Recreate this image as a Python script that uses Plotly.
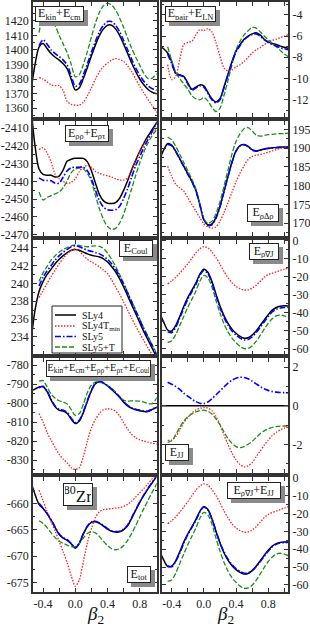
import plotly.graph_objects as go

N = None
W, H = 310, 628

beta = [-0.55, -0.5, -0.45, -0.4, -0.35, -0.3, -0.25, -0.2, -0.15, -0.1, -0.05, 0.0, 0.05, 0.1, 0.15,
        0.2, 0.25, 0.3, 0.35, 0.4, 0.45, 0.5, 0.55, 0.6, 0.65, 0.7, 0.75, 0.8, 0.85, 0.9, 0.95, 1.0, 1.05]

# E_kin + E_cm
kin_sly4 = [1372, 1390, 1402, 1404.5, 1401, 1397.5, 1395, 1393, 1390.5, 1387, 1379.5, 1372.5, 1374, 1380.5, 1388, 1396, 1403.5, 1410, 1414.5, 1417, 1417, 1414.5, 1410, 1404, 1397.5, 1391, 1385, 1380, 1376, 1373, 1371, 1370, 1369.5]
kin_sly4t = [N, N, 1381, 1380, 1378, 1376, 1375.5, 1375.5, 1372, 1364.5, 1362.5, 1362, 1362, 1364, 1368.5, 1374, 1380, 1385, 1388.5, 1391, 1393, 1394, 1393.5, 1392, 1389, 1385, 1380, 1375, 1370.5, 1366, 1362, 1358, 1354]
kin_sly5 = [N, N, 1403, 1407, 1404, 1400, 1397.5, 1395.5, 1393, 1389.5, 1382, 1375, 1376.5, 1383, 1390.5, 1398.5, 1406, 1412.5, 1417, 1419.5, 1419.5, 1417, 1412.5, 1406.5, 1400, 1393.5, 1387.5, 1382.5, 1378.5, 1375.5, 1373.5, 1372.5, 1372]
kin_sly5t = [N, N, 1412, 1423, 1426, 1423, 1417, 1410, 1404, 1398, 1390, 1381.5, 1383, 1390, 1399, 1409, 1418.5, 1426, 1430.5, 1432, 1431, 1427.5, 1422, 1415.5, 1408, 1401, 1395, 1389.5, 1384, 1380.5, 1380.5, 1383, 1385]

# E_pair + E_LN
pair_sly4 = [-6.9, -7.2, -7.6, -8.4, -9.5, -9.65, -9.8, -10.4, -11.0, -10.8, -10.6, -10.7, -11.3, -11.9, -12.2, -11.9, -10.8, -9.6, -8.4, -7.4, -6.8, -6.3, -6.0, -5.8, -5.7, -5.9, -6.3, -6.55, -6.7, -6.8, -6.95, -7.05, -7.15]
pair_sly4t = [N, N, -8.7, -10.1, -9.8, -8.2, -6.8, -6.6, -6.5, -5.9, -5.4, -5.5, -5.3, -5.6, -6.6, -7.9, -9.0, -9.3, -9.2, -8.9, -8.7, -8.4, -8.0, -7.6, -7.3, -7.1, -6.8, -6.6, -6.4, -6.3, -6.15, -6.0, -5.9]
pair_sly5 = [N, N, -7.7, -8.6, -9.5, -9.7, -9.85, -10.5, -11.1, -10.9, -10.7, -10.8, -11.4, -12.0, -12.3, -12.0, -10.9, -9.7, -8.5, -7.5, -6.9, -6.35, -6.05, -5.85, -5.8, -6.0, -6.35, -6.6, -6.8, -6.95, -7.1, -7.2, -7.3]
pair_sly5t = [N, N, -7.0, -8.3, -9.4, -10.0, -10.5, -11.0, -11.6, -11.9, -12.0, -11.8, -12.1, -12.7, -13.1, -12.8, -11.6, -10.2, -8.7, -7.3, -6.5, -5.9, -5.5, -5.2, -5.25, -5.6, -6.0, -6.35, -6.7, -7.0, -7.35, -7.7, -7.95]

# E_rhorho + E_rhotau
rr_sly4 = [-2398, -2420, -2433, -2436, -2436.5, -2436.5, -2437.5, -2437, -2433.5, -2428.5, -2427.5, -2427, -2427, -2427, -2429, -2434, -2441, -2447.5, -2451, -2452.3, -2452.5, -2452, -2449.5, -2445, -2439.5, -2433.5, -2428, -2423, -2418.5, -2414.5, -2411, -2407.5, -2404]
rr_sly4t = [N, N, -2422, -2421, -2424, -2429, -2436, -2438.5, -2440, -2441.2, -2440.5, -2438.5, -2434.5, -2432, -2431, -2432, -2434.3, -2435.5, -2436.3, -2436.8, -2437.5, -2438.5, -2439.2, -2439.3, -2438, -2433, -2428, -2423.5, -2419, -2415.5, -2413, -2410.5, -2408]
rr_sly5 = [N, N, -2438, -2439.3, -2439.5, -2439.7, -2441, -2441, -2437.5, -2434, -2432.3, -2432, -2432, -2432, -2434, -2438.5, -2445, -2451, -2454.5, -2456, -2456.3, -2456, -2454, -2449.5, -2444, -2437.5, -2431, -2426, -2421, -2416.5, -2412, -2408, -2405]
rr_sly5t = [N, N, -2446, -2450.5, -2449, -2448, -2447, -2446, -2443.5, -2439.5, -2435, -2433, -2432.5, -2433, -2435.5, -2440, -2448, -2455.5, -2461.5, -2465.5, -2467, -2466.5, -2463.5, -2458.5, -2451.5, -2444, -2436.5, -2429.5, -2423.5, -2418.5, -2414.5, -2411.5, -2409]

# E_rho Delta rho
lap_sly4 = [187, 189.5, 191.2, 190.8, 189.2, 187.2, 185.2, 183.2, 181.2, 178.8, 175, 171, 169.6, 169.8, 171.5, 174.5, 178.5, 182.5, 186.3, 189.3, 190.7, 191, 190.5, 189.6, 189.3, 189.5, 189.8, 190, 190.1, 190.2, 190.3, 190.3, 190.4]
lap_sly4t = [N, N, 185.2, 182.5, 180.4, 179.4, 178.6, 176.8, 175, 173.3, 171.5, 169.8, 169, 168.7, 169, 170.5, 172.8, 175.5, 178.3, 181, 183.3, 185.3, 187, 187.8, 188.1, 188.3, 188.6, 188.9, 189.3, 189.6, 189.9, 190.2, 190.5]
lap_sly5 = [N, N, 191, 190.7, 189.1, 187.1, 185.1, 183.1, 181.1, 178.7, 174.9, 170.9, 169.4, 169.6, 171.3, 174.3, 178.3, 182.4, 186.2, 189.2, 190.6, 190.9, 190.4, 189.5, 189.2, 189.4, 189.7, 189.9, 190, 190.1, 190.2, 190.2, 190.3]
lap_sly5t = [N, N, 193, 192.2, 190.5, 188.4, 186.2, 184, 181.8, 179.2, 175.3, 171.2, 170, 170.5, 172.5, 175.7, 179.8, 184.2, 188.5, 191.8, 193.8, 195.2, 195.5, 194.6, 193.5, 193.2, 193.4, 193.6, 193.7, 193.8, 193.9, 193.9, 194]

# E_Coul
coul_sly4 = [233.5, 237, 239.1, 240.2, 241, 241.6, 242.2, 242.7, 243.1, 243.45, 243.7, 243.8, 243.7, 243.5, 243.3, 243.15, 243.05, 242.95, 242.75, 242.4, 241.9, 241.3, 240.5, 239.6, 238.6, 237.6, 236.6, 235.6, 234.6, 233.7, 232.8, 231.9, 231]
coul_sly4t = [N, N, 238.4, 239.2, 240, 240.8, 241.5, 242.2, 242.8, 243.3, 243.7, 243.85, 243.6, 243.1, 242.7, 242.4, 242.15, 241.85, 241.5, 241.1, 240.4, 239.6, 238.8, 237.9, 237, 236.1, 235.2, 234.4, 233.6, 232.8, 232.1, 231.4, 230.7]
coul_sly5 = [N, N, 239.7, 240.7, 241.4, 242, 242.6, 243.1, 243.5, 243.8, 244.1, 244.2, 244.1, 243.9, 243.7, 243.6, 243.45, 243.3, 243.05, 242.7, 242.2, 241.6, 240.8, 239.9, 238.9, 237.9, 236.9, 235.9, 234.9, 234, 233.1, 232.2, 231.3]
coul_sly5t = [N, N, 240.2, 241.2, 241.9, 242.6, 243.1, 243.5, 243.8, 244, 244.2, 244.3, 244.25, 244.15, 244.1, 244.15, 244.2, 244.15, 243.9, 243.4, 242.7, 241.9, 241, 240, 239, 238, 237, 236, 235, 234.1, 233.2, 232.3, 231.4]

# E_rho nabla J
so_sly4 = [-40, -45, -49.5, -50, -47, -42, -36.5, -31.5, -27.5, -23.5, -18.5, -15.8, -17.5, -22.5, -29.5, -36, -41.5, -45.8, -49, -51.3, -53, -54, -53.8, -52.3, -50, -47, -44, -41, -38.5, -37, -36.3, -36.1, -36.2]
so_sly4t = [N, N, -24, -22.3, -20.3, -18, -15.5, -12.8, -9.8, -6.8, -4.5, -3.3, -4, -6.3, -9.3, -13, -17, -20.5, -23.3, -25.3, -26.6, -27.3, -27.3, -26.3, -24.7, -22.6, -20.3, -18.8, -18, -17.3, -16.5, -15.8, -15.2]
so_sly5 = [N, N, -50.5, -51, -48, -43, -37.5, -32.5, -28.3, -24.3, -19.3, -16.5, -18.3, -23.3, -30.3, -37, -42.5, -46.8, -50, -52.3, -54, -55, -54.8, -53.3, -51, -48, -45, -42, -39.5, -38, -37.3, -37, -37]
so_sly5t = [N, N, -56.5, -55.5, -52, -47, -42, -37, -32.5, -28, -22.5, -19.2, -20.5, -25.5, -33, -40, -46, -50.5, -54, -56.5, -58.5, -59.8, -59.7, -58.3, -55.8, -52.5, -49, -45.8, -43.3, -41.7, -41.2, -41.7, -42.5]

# E_kin + E_cm + E_rhorho + E_rhotau + E_Coul
sum_sly4 = [-793.5, -792.7, -791.5, -791.5, -794, -798.5, -802, -803.8, -804.2, -805.5, -808.5, -810.8, -809.5, -805, -799, -793.5, -789.8, -788.8, -789.5, -791, -792.8, -794.8, -797, -799.5, -801.5, -802.8, -803.5, -804, -804.4, -804.5, -803.5, -802.5, -802]
sum_sly4t = [N, N, -805.5, -810, -815.5, -819.5, -823.5, -827, -829.5, -831.5, -834, -835, -834, -828, -820, -813, -808.5, -805.5, -803.5, -803, -803.3, -804.3, -806.8, -810.3, -813.7, -816.5, -818.3, -819.3, -820, -820.6, -821.1, -821.5, -822]
sum_sly5 = [N, N, -792, -791.2, -793.6, -798, -801.5, -803.3, -803.8, -805, -808, -810.3, -809, -804.5, -798.6, -793.2, -789.5, -788.6, -789.3, -790.8, -792.6, -794.6, -796.8, -799.2, -801.2, -802.5, -803.2, -803.7, -804.1, -804.2, -803.3, -802.3, -801.8]
sum_sly5t = [N, N, -788.5, -788.2, -791.5, -795.3, -797.5, -798.8, -799.5, -800.5, -803.5, -806.5, -805.5, -800.5, -794.5, -790.5, -789, -789, -789.7, -790.8, -792.2, -794.2, -796.7, -798.5, -799, -798.8, -798.8, -799, -799.5, -800.2, -800.4, -798, -795]

# E_JJ
jj_sly4 = [0, 0, 0, 0, 0, 0, 0, 0, 0, 0, 0, 0, 0, 0, 0, 0, 0, 0, 0, 0, 0, 0, 0, 0, 0, 0, 0, 0, 0, 0, 0, 0, 0]
jj_sly4t = [N, N, -1.8, -1.78, -1.6, -1.25, -0.88, -0.6, -0.38, -0.22, -0.13, -0.09, -0.12, -0.25, -0.55, -0.98, -1.5, -2.0, -2.45, -2.8, -3.05, -3.17, -3.12, -2.95, -2.65, -2.35, -2.05, -1.78, -1.55, -1.38, -1.25, -1.16, -1.1]
jj_sly5 = [N, N, 1.22, 1.12, 1.0, 0.85, 0.66, 0.5, 0.35, 0.22, 0.13, 0.12, 0.2, 0.36, 0.56, 0.77, 0.98, 1.18, 1.33, 1.43, 1.48, 1.47, 1.4, 1.28, 1.14, 1.0, 0.88, 0.8, 0.74, 0.71, 0.69, 0.68, 0.68]
jj_sly5t = [N, N, -1.9, -1.82, -1.5, -1.12, -0.8, -0.58, -0.43, -0.32, -0.25, -0.23, -0.28, -0.43, -0.68, -0.98, -1.35, -1.7, -1.95, -2.12, -2.17, -2.12, -2.0, -1.85, -1.65, -1.45, -1.3, -1.2, -1.12, -1.08, -1.06, -1.05, -1.05]

# E_tot
tot_sly4 = [-656, -658.3, -660.2, -661, -662, -663.2, -664.6, -665.9, -666.6, -667, -667.7, -668.5, -667.6, -665.8, -664.4, -663.6, -663.5, -663.8, -664.3, -664.9, -665.3, -665.45, -665.4, -665, -664.2, -662.8, -661.3, -659.8, -658.5, -657.3, -656.2, -655.1, -654]
tot_sly4t = [N, N, -657.5, -659.5, -661.6, -663.5, -665.3, -667.2, -669.2, -671.3, -673.8, -675.7, -674.5, -671, -667.5, -664.8, -662.7, -661.6, -661.2, -661.1, -661, -660.9, -660.8, -660.6, -660.2, -659.6, -658.8, -658, -657.2, -656.3, -655.4, -654.5, -653.6]
tot_sly5 = [N, N, -660, -660.9, -661.9, -663.1, -664.5, -665.8, -666.5, -666.9, -667.6, -668.4, -667.5, -665.7, -664.3, -663.5, -663.4, -663.7, -664.2, -664.8, -665.2, -665.35, -665.3, -664.9, -664.1, -662.7, -661.2, -659.7, -658.4, -657.2, -656.1, -655, -653.9]
tot_sly5t = [N, N, -663.3, -663.8, -664.6, -665.6, -666.5, -667.2, -667.6, -667.9, -668.2, -668.2, -667.6, -666.6, -665.7, -665.4, -665.6, -666.3, -667.2, -668, -668.6, -668.8, -668.6, -668, -667, -665.7, -664.2, -662.6, -661, -659.5, -658, -656.6, -655.2]

# E_rho nabla J + E_JJ
sojj_sly4 = [-41, -46, -49.7, -49.5, -46.5, -41.5, -36, -31.5, -27.5, -23.5, -18.8, -16.2, -17.8, -23, -30, -36.5, -42, -46.2, -49.3, -51.5, -53, -53.9, -53.6, -52, -49.6, -46.6, -43.5, -40.6, -38.3, -36.9, -36.2, -36, -36]
sojj_sly4t = [N, N, -25.8, -24.1, -21.9, -19.3, -16.4, -13.4, -10.2, -7, -4.6, -3.4, -4.1, -6.6, -9.9, -14, -18.5, -22.5, -25.8, -28.1, -29.6, -30.5, -30.4, -29.3, -27.4, -25, -22.4, -20.6, -19.5, -18.7, -17.8, -17, -16.3]
sojj_sly5 = [N, N, -49.3, -49.9, -47, -42.2, -36.8, -31.9, -27.9, -24.1, -19.2, -16.4, -18.1, -22.9, -29.7, -36.2, -41.5, -45.6, -48.7, -50.9, -52.5, -53.5, -53.4, -52, -49.9, -47, -44.1, -41.2, -38.8, -37.3, -36.6, -36.3, -36.3]
sojj_sly5t = [N, N, -58, -57.3, -53.5, -48.1, -42.8, -37.6, -32.9, -28.3, -22.8, -19.4, -20.8, -25.9, -33.7, -41, -47.3, -52.2, -56, -58.6, -60.7, -61.9, -61.7, -60.2, -57.5, -54, -50.3, -47, -44.4, -42.8, -42.3, -42.8, -43.6]

# tick labels
ticks_kin = [1360, 1370, 1380, 1390, 1400, 1410, 1420, 1430]
ticks_pair = [-4, -6, -8, -10, -12]
ticks_rr = [-2410, -2420, -2430, -2440, -2450, -2460, -2470]
ticks_lap = [170, 175, 180, 185, 190, 195]
ticks_coul = [232, 234, 236, 238, 240, 242, 244]
ticks_so = [0, -10, -20, -30, -40, -50, -60]
ticks_sum = [-780, -790, -800, -810, -820, -830]
ticks_jj = [2, 0, -2]
ticks_tot = [-655, -660, -665, -670, -675]
ticks_sojj = [0, -10, -20, -30, -40, -50, -60]
beta_ticks = [-0.4, 0.0, 0.4, 0.8]
beta_ticktext = ["-0.4", "0.0", "0.4", "0.8"]
beta_minor_ticks = [-0.2, 0.2, 0.6, 1.0]

forces = ["SLy4", "SLy4T<sub>min</sub>", "SLy5", "SLy5+T"]
line_styles = [
    dict(color="#000000", width=1.5, dash="solid"),
    dict(color="#ff2020", width=1.3, dash="1.5px,1.5px"),
    dict(color="#0000ff", width=1.6, dash="6px,2px,1.5px,2px"),
    dict(color="#1e8c1e", width=1.3, dash="5px,2px"),
]
draw_order = [0, 1, 3, 2]

# (row, col, series, y-range, ticks, minor dtick)
panels = [
    (0, 0, [kin_sly4, kin_sly4t, kin_sly5, kin_sly5t], [1354, 1433], ticks_kin, 5),
    (0, 1, [pair_sly4, pair_sly4t, pair_sly5, pair_sly5t], [-13.6, -2.8], ticks_pair, 1),
    (1, 0, [rr_sly4, rr_sly4t, rr_sly5, rr_sly5t], [-2470.6, -2405.8], ticks_rr, 5),
    (1, 1, [lap_sly4, lap_sly4t, lap_sly5, lap_sly5t], [166.7, 197.3], ticks_lap, 2.5),
    (2, 0, [coul_sly4, coul_sly4t, coul_sly5, coul_sly5t], [232.05, 244.9], ticks_coul, 1),
    (2, 1, [so_sly4, so_sly4t, so_sly5, so_sly5t], [-63, 0.6], ticks_so, 5),
    (3, 0, [sum_sly4, sum_sly4t, sum_sly5, sum_sly5t], [-836.9, -776.5], ticks_sum, 5),
    (3, 1, [jj_sly4, jj_sly4t, jj_sly5, jj_sly5t], [-3.5, 2.46], ticks_jj, 1),
    (4, 0, [tot_sly4, tot_sly4t, tot_sly5, tot_sly5t], [-676.8, -655.05], ticks_tot, 2.5),
    (4, 1, [sojj_sly4, sojj_sly4t, sojj_sly5, sojj_sly5t], [-64, 0.3], ticks_sojj, 5),
]

col_px = [(33, 156.7), (161.7, 288.3)]
col_xrange = [[-0.525, 1.01], [-0.524, 1.05]]
row_tops = [2, 120.8, 239.6, 358.4, 477.2]
row_h = 114.8

def fx(p):
    return p / W

def fy(p):
    return 1 - p / H

tick_font = dict(family="Liberation Serif, Times New Roman, serif", size=12, color="#222")
frame = "#333333"

fig = go.Figure()
layout = dict(width=W, height=H, margin=dict(l=0, r=0, t=0, b=0),
              paper_bgcolor="white", plot_bgcolor="white", showlegend=False)

for (r, c, series, yr, yt, mdt) in panels:
    n = r * 2 + c + 1
    xk = "xaxis" if n == 1 else f"xaxis{n}"
    yk = "yaxis" if n == 1 else f"yaxis{n}"
    xr = "x" if n == 1 else f"x{n}"
    yrf = "y" if n == 1 else f"y{n}"
    top = row_tops[r]
    layout[xk] = dict(
        domain=[fx(col_px[c][0]), fx(col_px[c][1])], range=col_xrange[c], anchor=yrf,
        tickmode="array", tickvals=beta_ticks, ticktext=beta_ticktext,
        showticklabels=(r == 4), ticks="inside", ticklen=4, tickwidth=1, tickcolor=frame,
        minor=dict(tickmode="array", tickvals=beta_minor_ticks, ticks="inside", ticklen=4,
                   tickwidth=1, tickcolor=frame),
        showline=True, linewidth=1.8, linecolor=frame, mirror="allticks",
        showgrid=False, zeroline=False, tickfont=tick_font, automargin=False,
    )
    layout[yk] = dict(
        domain=[fy(top + row_h), fy(top)], range=yr, anchor=xr,
        side="left" if c == 0 else "right",
        tickmode="array", tickvals=yt, ticktext=[str(v) for v in yt],
        ticks="inside", ticklen=4, tickwidth=1, tickcolor=frame,
        minor=dict(ticks="inside", ticklen=2, tickwidth=1, tickcolor=frame, dtick=mdt, tick0=0),
        showline=True, linewidth=1.8, linecolor=frame, mirror="allticks",
        showgrid=False, zeroline=False, tickfont=tick_font, automargin=False,
    )
    for i in draw_order:
        fig.add_trace(go.Scatter(
            x=beta, y=series[i], mode="lines", name=forces[i],
            line=dict(shape="spline", smoothing=0.8, **line_styles[i]),
            xaxis=xr, yaxis=yrf, connectgaps=False, hoverinfo="skip",
        ))

annotations = []
shapes = []

label_family = "Liberation Serif, Times New Roman, serif"

def boxed(x0, x1, y0, y1, text, size=12):
    # drop shadow as a plain rectangle, then the framed label on top
    shapes.append(dict(type="rect", xref="paper", yref="paper",
                       x0=fx(x0 + 4), x1=fx(x1 + 4), y0=fy(y1 + 4), y1=fy(y0 + 4),
                       line=dict(width=0), fillcolor="#8a8a8a", layer="above"))
    annotations.append(dict(x=fx((x0 + x1) / 2), y=fy((y0 + y1) / 2), xref="paper", yref="paper",
                            text=text, showarrow=False,
                            font=dict(family=label_family, size=size, color="#111"),
                            bgcolor="white", bordercolor="#222", borderwidth=1, borderpad=1,
                            width=x1 - x0 - 4, height=y1 - y0 - 4,
                            xanchor="center", yanchor="middle"))

boxed(35, 84, 6, 22, "E<sub>kin</sub>+E<sub>cm</sub>")
boxed(165, 216, 6, 22, "E<sub>pair</sub>+E<sub>LN</sub>")
boxed(65, 109, 125, 142, "E<sub>ρρ</sub>+E<sub>ρτ</sub>")
boxed(247, 279, 204, 222, "E<sub>ρΔρ</sub>")
boxed(119, 153, 240, 257, "E<sub>Coul</sub>")
boxed(249, 279, 243, 260, "E<sub>ρ∇J</sub>")
boxed(46, 151, 360, 377, "E<sub>kin</sub>+E<sub>cm</sub>+E<sub>ρρ</sub>+E<sub>ρτ</sub>+E<sub>Coul</sub>", size=10.5)
boxed(165, 189, 444, 461, "E<sub>JJ</sub>")
boxed(63, 93, 483, 506, "<sup>80</sup>Zr", size=17)
boxed(127, 151, 566, 583, "E<sub>tot</sub>")
boxed(227, 281, 482, 499, "E<sub>ρ∇J</sub>+E<sub>JJ</sub>")

# legend (panel E_Coul)
shapes.append(dict(type="rect", xref="paper", yref="paper", x0=fx(52), x1=fx(122), y0=fy(353), y1=fy(306),
                   line=dict(color="#222", width=1), fillcolor="white", layer="above"))
leg_rows = [315, 326, 336.5, 347]
for i, yy in enumerate(leg_rows):
    st = line_styles[i]
    shapes.append(dict(type="line", xref="paper", yref="paper", x0=fx(55), x1=fx(76), y0=fy(yy), y1=fy(yy),
                       line=dict(color=st["color"], width=st["width"], dash=st["dash"]), layer="above"))
    annotations.append(dict(x=fx(80), y=fy(yy), xref="paper", yref="paper", text=forces[i],
                            showarrow=False, xanchor="left", yanchor="middle",
                            font=dict(family=label_family, size=10, color="#111")))

for cx in (95, 225):
    annotations.append(dict(x=fx(cx), y=fy(615), xref="paper", yref="paper",
                            text="<i>β</i><sub>2</sub>", showarrow=False,
                            xanchor="center", yanchor="middle",
                            font=dict(family=label_family, size=19, color="#111")))

layout["annotations"] = annotations
layout["shapes"] = shapes
fig.update_layout(**layout)
fig.write_html("out.html", config={"displayModeBar": False},
               post_script="document.body.style.margin='0';document.body.style.overflow='hidden';")
